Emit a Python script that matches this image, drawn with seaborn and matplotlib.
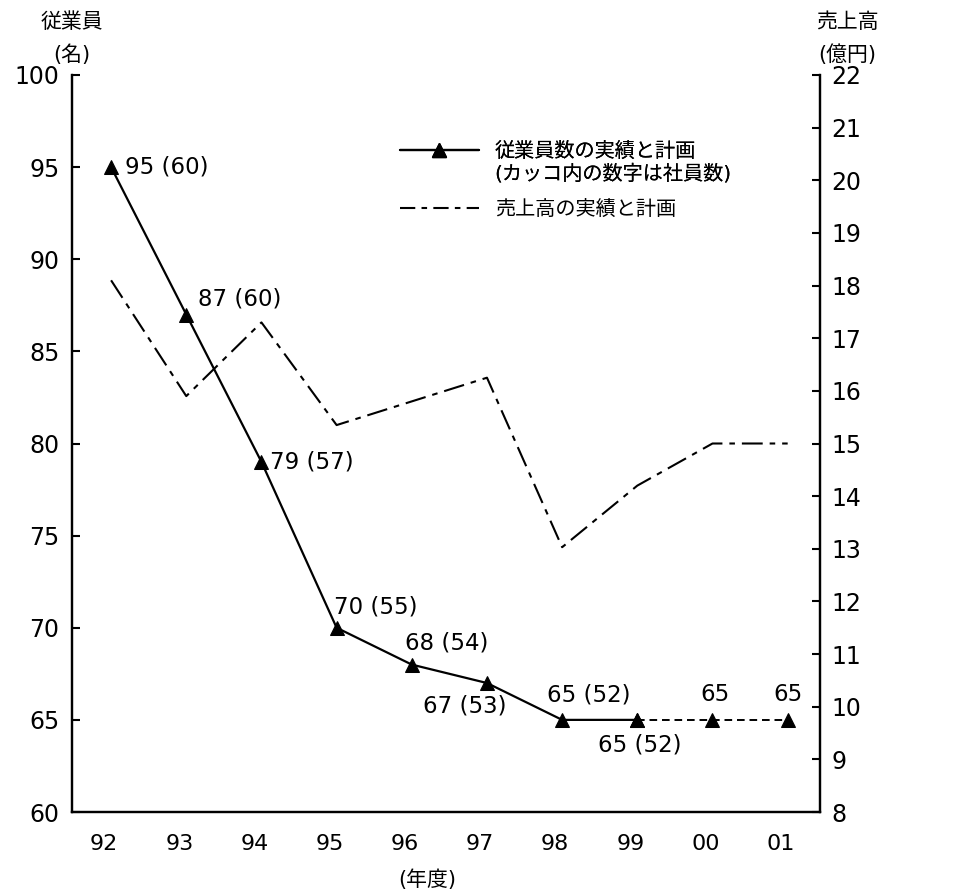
import numpy as np
import pandas as pd
import matplotlib
matplotlib.use("Agg")
import matplotlib.pyplot as plt
from matplotlib.lines import Line2D
from matplotlib.transforms import ScaledTranslation
import seaborn as sns

# ---- data ----
years = ["92", "93", "94", "95", "96", "97", "98", "99", "00", "01"]
employees = [95, 87, 79, 70, 68, 67, 65, 65, 65, 65]
staff = [60, 60, 57, 55, 54, 53, 52, 52, None, None]
sales = [18.1, 15.9, 17.3, 15.35, 15.8, 16.25, 13.03, 14.2, 15.0, 15.0]
n_actual = 8  # 92..99 solid, 99..01 dashed plan

sns.set_style("white")
plt.rcParams["font.family"] = ["DejaVu Sans", "Noto Sans CJK JP"]
plt.rcParams["lines.scale_dashes"] = False
plt.rcParams["text.color"] = "black"
plt.rcParams["xtick.color"] = "black"
plt.rcParams["ytick.color"] = "black"
plt.rcParams["xtick.labelcolor"] = "black"
plt.rcParams["ytick.labelcolor"] = "black"

pos = np.arange(len(years))
df = pd.DataFrame({"pos": pos, "year": years, "emp": employees, "sales": sales})

fig = plt.figure(figsize=(9.75, 8.93), dpi=100)
ax = fig.add_axes([72 / 975, 1 - 812 / 893, (820 - 72) / 975, (812 - 75) / 893])
ax2 = ax.twinx()

# employees: actual (solid) and plan (dashed)
sns.lineplot(data=df.iloc[:n_actual], x="pos", y="emp", ax=ax, color="black",
             lw=1.6, marker="^", markersize=10, markeredgecolor="black")
sns.lineplot(data=df.iloc[n_actual - 1:], x="pos", y="emp", ax=ax, color="black",
             lw=1.4, linestyle=(0, (5.5, 3.5)), marker="^", markersize=10,
             markeredgecolor="black")

# sales (dash-dot)
sns.lineplot(data=df, x="pos", y="sales", ax=ax2, color="black", lw=1.5,
             linestyle=(0, (15, 5, 4, 5)))

ax.set_xlim(-0.52, 9.43)
ax.set_ylim(60, 100)
ax2.set_ylim(8, 22)

# annotations (offset in px, ha, va)
ann = [
    ((14, 0), "left", "center"),
    ((12, 16), "left", "center"),
    ((9, 0), "left", "center"),
    ((-3, 21), "left", "center"),
    ((-7, 22), "left", "center"),
    ((-22, -23), "center", "center"),
    ((27, 25), "center", "center"),
    ((2, -25), "center", "center"),
    ((3, 25), "center", "center"),
    ((0, 25), "center", "center"),
]
for i, (e, s) in enumerate(zip(employees, staff)):
    txt = f"{e} ({s})" if s is not None else f"{e}"
    (dx, dy), ha, va = ann[i]
    ax.annotate(txt, (pos[i], e), xytext=(dx * 0.72, dy * 0.72),
                textcoords="offset points", ha=ha, va=va, fontsize=16.5,
                color="black")

# axes styling
for a in (ax, ax2):
    a.spines["top"].set_visible(False)
    for s in ("left", "right", "bottom"):
        a.spines[s].set_linewidth(1.6)
        a.spines[s].set_color("black")
    a.set_xlabel("")
    a.set_ylabel("")

ax.set_yticks(np.arange(60, 101, 5))
ax.tick_params(axis="y", direction="in", length=6, width=1.5, labelsize=17, pad=9)
ax2.set_yticks(np.arange(8, 23, 1))
ax2.tick_params(axis="y", direction="in", length=6, width=1.5, labelsize=17, pad=8)

ax.set_xticks(pos)
ax.set_xticklabels(years)
ax.set_xticks(pos[:-1] + 0.5, minor=True)
ax.tick_params(axis="x", which="major", length=0, labelsize=16, pad=16)
ax.tick_params(axis="x", which="minor", direction="in", length=6, width=1.5)
for lab in ax.get_xticklabels():
    lab.set_transform(lab.get_transform() + ScaledTranslation(-7 / 100, 0, fig.dpi_scale_trans))

# axis titles
fig.text(72 / 975, 1 - 22 / 893, "従業員", ha="center", va="center", fontsize=15)
fig.text(72 / 975, 1 - 55 / 893, "(名)", ha="center", va="center", fontsize=15)
fig.text(847 / 975, 1 - 22 / 893, "売上高", ha="center", va="center", fontsize=15)
fig.text(847 / 975, 1 - 55 / 893, "(億円)", ha="center", va="center", fontsize=15)
fig.text(427 / 975, 1 - 880 / 893, "(年度)", ha="center", va="center", fontsize=15)

# legend
h1 = Line2D([], [], color="black", lw=1.6, marker="^", markersize=10)
h0 = Line2D([], [], color="none")
h2 = Line2D([], [], color="black", lw=1.5, linestyle=(0, (11, 4.5, 4, 4.5)))
leg1 = ax.legend([h1, h0], ["従業員数の実績と計画", "(カッコ内の数字は社員数)"],
                 loc="upper left", bbox_to_anchor=(400 / 975, 1 - 142 / 893),
                 bbox_transform=fig.transFigure, frameon=False, fontsize=14.5,
                 handlelength=3.9, handletextpad=0.8, labelspacing=0.15,
                 borderpad=0, borderaxespad=0)
ax.add_artist(leg1)
ax2.legend([h2], ["売上高の実績と計画"], loc="upper left",
           bbox_to_anchor=(400 / 975, 1 - 200 / 893),
           bbox_transform=fig.transFigure, frameon=False, fontsize=14.5,
           handlelength=3.9, handletextpad=0.8, borderpad=0, borderaxespad=0)

fig.savefig("out.png", dpi=100, facecolor="white")
